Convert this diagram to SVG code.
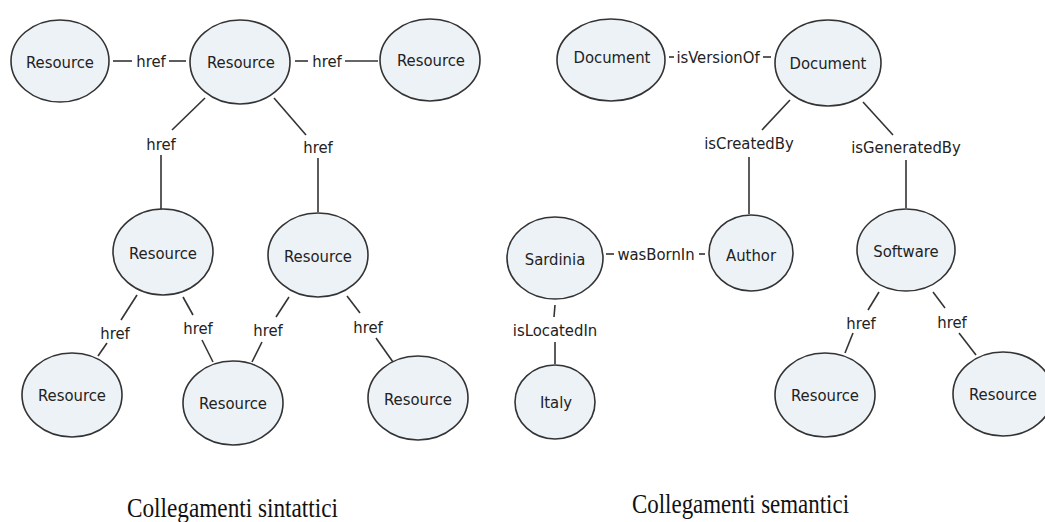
<svg xmlns="http://www.w3.org/2000/svg" width="1045" height="522" viewBox="0 0 1045 522">
<style>
.n ellipse{fill:#edf2f7;stroke:#333;stroke-width:1.6}
.n text,.lbl{font-family:"DejaVu Sans Condensed","DejaVu Sans",sans-serif;font-size:16.5px;fill:#222;text-anchor:middle;dominant-baseline:central}
.e line{stroke:#333;stroke-width:1.6}
.cap{font-family:"Liberation Serif",serif;font-size:28px;fill:#111;text-anchor:start}
</style>
<rect width="1045" height="522" fill="#fff"/>
<g id="connectors">
<g class="e">
<line x1="113" y1="61" x2="132" y2="61"/><line x1="169" y1="61" x2="186" y2="61"/>
<line x1="295" y1="61" x2="308" y2="61"/><line x1="345" y1="61" x2="378" y2="61"/>
<line x1="205" y1="98" x2="172" y2="130"/><line x1="161" y1="155" x2="161" y2="209"/>
<line x1="274" y1="98" x2="306" y2="135"/><line x1="318" y1="158" x2="318" y2="212"/>
<line x1="137" y1="295" x2="121" y2="320"/><line x1="107" y1="343" x2="98" y2="356"/>
<line x1="183" y1="297" x2="193" y2="315"/><line x1="202" y1="340" x2="213" y2="362"/>
<line x1="289" y1="297" x2="276" y2="317"/><line x1="262" y1="342" x2="252" y2="362"/>
<line x1="347" y1="296" x2="360" y2="313"/><line x1="376" y1="338" x2="393" y2="362"/>
<line x1="669" y1="57" x2="674" y2="57"/><line x1="763" y1="57" x2="771" y2="57"/>
<line x1="790" y1="100" x2="762" y2="130"/><line x1="749" y1="157" x2="749" y2="214"/>
<line x1="863" y1="102" x2="893" y2="135"/><line x1="906" y1="160" x2="906" y2="208"/>
<line x1="606" y1="254" x2="614" y2="254"/><line x1="699" y1="254" x2="705" y2="254"/>
<line x1="555" y1="305" x2="554" y2="317"/><line x1="555" y1="342" x2="555" y2="364"/>
<line x1="879" y1="292" x2="868" y2="310"/><line x1="853" y1="333" x2="845" y2="353"/>
<line x1="933" y1="292" x2="945" y2="308"/><line x1="959" y1="333" x2="976" y2="355"/>
</g>
<text class="lbl" x="151" y="61">href</text>
<text class="lbl" x="327" y="61">href</text>
<text class="lbl" x="161" y="144">href</text>
<text class="lbl" x="318" y="147">href</text>
<text class="lbl" x="115" y="333">href</text>
<text class="lbl" x="198" y="328">href</text>
<text class="lbl" x="268" y="330">href</text>
<text class="lbl" x="368" y="327">href</text>
<text class="lbl" x="718" y="57">isVersionOf</text>
<text class="lbl" x="749" y="143">isCreatedBy</text>
<text class="lbl" x="906" y="147">isGeneratedBy</text>
<text class="lbl" x="656" y="254">wasBornIn</text>
<text class="lbl" x="555" y="330">isLocatedIn</text>
<text class="lbl" x="861" y="323">href</text>
<text class="lbl" x="952" y="322">href</text>
</g>
<g id="r1" class="n"><ellipse cx="60" cy="61" rx="49" ry="41"/><text x="60" y="62">Resource</text></g>
<g id="r2" class="n"><ellipse cx="240" cy="62" rx="50" ry="42"/><text x="241" y="62">Resource</text></g>
<g id="r3" class="n"><ellipse cx="430" cy="60" rx="50" ry="41"/><text x="431" y="60">Resource</text></g>
<g id="r4" class="n"><ellipse cx="163" cy="252" rx="50" ry="43"/><text x="163" y="253">Resource</text></g>
<g id="r5" class="n"><ellipse cx="318" cy="255" rx="50" ry="42"/><text x="318" y="256">Resource</text></g>
<g id="r6" class="n"><ellipse cx="72" cy="395" rx="50" ry="42"/><text x="72" y="395">Resource</text></g>
<g id="r7" class="n"><ellipse cx="233" cy="403" rx="50" ry="42"/><text x="233" y="403">Resource</text></g>
<g id="r8" class="n"><ellipse cx="418" cy="398" rx="50" ry="42"/><text x="418" y="399">Resource</text></g>
<g id="doc1" class="n"><ellipse cx="611" cy="60" rx="54" ry="41"/><text x="612" y="57">Document</text></g>
<g id="doc2" class="n"><ellipse cx="828" cy="63" rx="53" ry="43"/><text x="828" y="63">Document</text></g>
<g id="author" class="n"><ellipse cx="751" cy="253" rx="42" ry="38"/><text x="751" y="255">Author</text></g>
<g id="sardinia" class="n"><ellipse cx="555" cy="258" rx="48" ry="41"/><text x="555" y="259">Sardinia</text></g>
<g id="italy" class="n"><ellipse cx="555" cy="402" rx="40" ry="37"/><text x="556" y="402">Italy</text></g>
<g id="software" class="n"><ellipse cx="906" cy="250" rx="49" ry="41"/><text x="906" y="251">Software</text></g>
<g id="res1" class="n"><ellipse cx="825" cy="395" rx="50" ry="42"/><text x="825" y="395">Resource</text></g>
<g id="res2" class="n"><ellipse cx="1003" cy="394" rx="50" ry="42"/><text x="1003" y="394">Resource</text></g>
<text class="cap" x="127" y="517" textLength="211" lengthAdjust="spacingAndGlyphs">Collegamenti sintattici</text>
<text class="cap" x="632" y="513" textLength="217" lengthAdjust="spacingAndGlyphs">Collegamenti semantici</text>
</svg>
